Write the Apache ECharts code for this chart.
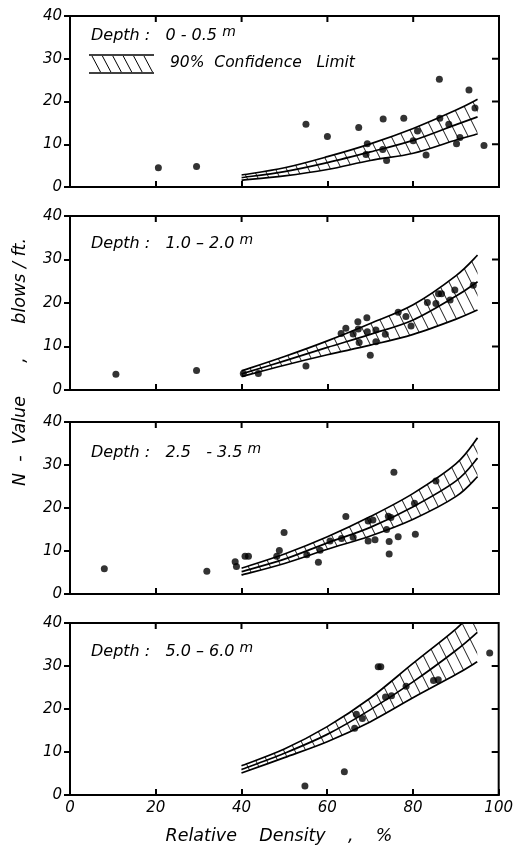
<!DOCTYPE html>
<html><head><meta charset="utf-8">
<script src="https://cdn.jsdelivr.net/npm/echarts@6/dist/echarts.min.js"></script>
<style>html,body{margin:0;padding:0;background:#fff}#c{width:516px;height:849px}</style>
</head><body><div id="c"></div>
<script>
// ---- data ----
const depthText = ['Depth :   0 - 0.5 ', 'Depth :   1.0 \u2013 2.0 ', 'Depth :   2.5   - 3.5 ', 'Depth :   5.0 \u2013 6.0 '];
const xTickValues = [0, 20, 40, 60, 80, 100];
const yTickValues = [0, 10, 20, 30, 40];
const curveX = [40, 50, 60, 70, 80, 90, 95];

// Depth 0 - 0.5 m
const upper1 = [2.8, 4.5, 7.1, 10.1, 13.7, 18.0, 20.5];
const mid1   = [2.2, 3.6, 5.7, 8.2, 10.9, 14.6, 16.4];
const lower1 = [1.6, 2.6, 4.1, 6.2, 7.9, 11.0, 12.4];
const pts1 = [[20.6,4.5],[29.5,4.8],[55,14.7],[60,11.8],[67.3,13.9],[73,15.9],[77.8,16.1],[86.1,25.2],[93,22.7],[94.4,18.5],[96.5,9.7],
  [69.3,10.1],[69,7.6],[72.9,8.8],[73.8,6.2],[81,13.1],[80,10.8],[83,7.5],[86.2,16.1],[88.3,14.7],[90.1,10.1],[90.9,11.6]];

// Depth 1.0 - 2.0 m
const upper2 = [4.4, 7.7, 11.3, 15.3, 19.6, 26.3, 31.0];
const mid2   = [3.7, 6.7, 9.8, 12.8, 16.1, 21.6, 24.9];
const lower2 = [3.1, 5.7, 8.1, 10.3, 12.8, 16.3, 18.4];
const pts2 = [[10.7,3.6],[29.5,4.5],[40.4,3.8],[43.9,3.8],[55,5.5],[63.2,13],[64.3,14.2],[66,12.9],[67.1,15.7],[67.2,14],[69.2,16.6],
  [69.3,13.4],[67.4,10.9],[71.3,13.8],[71.3,11.1],[70,8.0],[73.5,12.8],[76.5,17.9],[78.3,16.9],[79.5,14.7],[83.3,20.1],[85.3,19.9],
  [85.9,22.1],[86.6,22.1],[88.6,20.7],[89.7,23],[94,24.1]];

// Depth 2.5 - 3.5 m
const upper3 = [6.0, 9.3, 13.3, 18.0, 23.4, 30.3, 36.3];
const mid3   = [5.2, 8.1, 11.9, 15.5, 20.3, 26.3, 31.6];
const lower3 = [4.4, 7.1, 10.4, 13.5, 17.4, 22.7, 27.3];
const pts3 = [[8,5.9],[31.9,5.3],[38.5,7.5],[38.8,6.4],[40.8,8.8],[41.6,8.8],[48.8,10.1],[48.2,8.8],[49.9,14.3],[55.2,9.1],[57.9,7.4],
  [58.3,10.2],[60.6,12.3],[63.3,12.9],[64.3,18.0],[66,13.2],[69.5,17.0],[70.6,17.2],[69.5,12.3],[71.1,12.6],[73.8,15.0],[74.2,18.1],
  [74.8,17.8],[75.5,28.3],[74.4,12.2],[74.4,9.3],[76.5,13.3],[80.3,21.1],[80.5,13.9],[85.3,26.3]];

// Depth 5.0 - 6.0 m
const upper4 = [6.8, 10.7, 15.9, 22.5, 30.6, 38.6, 43.5];
const mid4   = [5.9, 9.7, 14.1, 19.8, 26.3, 33.6, 37.8];
const lower4 = [5.1, 8.7, 12.4, 17.0, 22.6, 28.0, 31.0];
const pts4 = [[54.8,2.1],[64,5.4],[66.4,15.5],[66.8,18.8],[68.2,17.8],[71.9,29.8],[72.5,29.8],[73.6,22.8],[75,23.1],[78.4,25.3],
  [84.8,26.6],[85.9,26.8],[97.9,33.0]];

const uppers = [upper1, upper2, upper3, upper4];
const mids = [mid1, mid2, mid3, mid4];
const lowers = [lower1, lower2, lower3, lower4];
const points = [pts1, pts2, pts3, pts4];

// ---- rendering ----
const FONT = 'DejaVu Sans';
const HATCH_STEP = 11;
const X_MIN = xTickValues[0], X_MAX = xTickValues[xTickValues.length - 1];
const Y_MIN = yTickValues[0], Y_MAX = yTickValues[yTickValues.length - 1];

function bez(p) {
  let s = '';
  for (let k = 0; k < p.length - 1; k++) {
    const p0 = p[k - 1] || p[k], p1 = p[k], p2 = p[k + 1], p3 = p[k + 2] || p[k + 1];
    const c1 = [p1[0] + (p2[0] - p0[0]) / 6, p1[1] + (p2[1] - p0[1]) / 6];
    const c2 = [p2[0] - (p3[0] - p1[0]) / 6, p2[1] - (p3[1] - p1[1]) / 6];
    s += ' C' + c1[0] + ',' + c1[1] + ' ' + c2[0] + ',' + c2[1] + ' ' + p2[0] + ',' + p2[1];
  }
  return s;
}
const M = p => 'M' + p[0] + ',' + p[1];

function bandRenderer(i) {
  return function (params, api) {
    const up = curveX.map((x, k) => api.coord([x, uppers[i][k]]));
    const md = curveX.map((x, k) => api.coord([x, mids[i][k]]));
    const lo = curveX.map((x, k) => api.coord([x, lowers[i][k]]));
    const cs = params.coordSys;
    const loRev = lo.slice().reverse();
    const bandPath = M(up[0]) + bez(up) + ' L' + loRev[0][0] + ',' + loRev[0][1] + bez(loRev) + ' Z';
    let hatch = '';
    const h = cs.height + 40, y0 = cs.y - 20;
    for (let x = cs.x - h; x < cs.x + cs.width - 20; x += HATCH_STEP) {
      hatch += 'M' + x + ',' + y0 + ' L' + (x + h * 0.5) + ',' + (y0 + h) + ' ';
    }
    // frame corners and inward ticks on the top and right edges
    const tl = api.coord([X_MIN, Y_MAX]), br = api.coord([X_MAX, Y_MIN]);
    let ticks = '';
    xTickValues.slice(1, -1).forEach(v => { const p = api.coord([v, Y_MAX]); ticks += 'M' + p[0] + ',' + p[1] + ' L' + p[0] + ',' + (p[1] + 6) + ' '; });
    yTickValues.slice(1, -1).forEach(v => { const p = api.coord([X_MAX, v]); ticks += 'M' + p[0] + ',' + p[1] + ' L' + (p[0] - 7) + ',' + p[1] + ' '; });
    const curveStyle = { fill: null, stroke: '#000', lineWidth: 1.7 };
    return {
      type: 'group',
      children: [
        { type: 'group',
          clipPath: { type: 'rect', shape: { x: cs.x, y: cs.y, width: cs.width, height: cs.height } },
          children: [
            { type: 'group', clipPath: { type: 'path', shape: { pathData: bandPath } },
              children: [{ type: 'path', shape: { pathData: hatch }, style: { fill: null, stroke: '#000', lineWidth: 0.9 } }] },
            { type: 'path', shape: { pathData: M(up[0]) + bez(up) }, style: curveStyle },
            { type: 'path', shape: { pathData: M(md[0]) + bez(md) }, style: curveStyle },
            { type: 'path', shape: { pathData: M(lo[0]) + bez(lo) }, style: curveStyle }
          ] },
        { type: 'rect', shape: { x: tl[0], y: tl[1], width: br[0] - tl[0], height: br[1] - tl[1] }, style: { fill: null, stroke: '#000', lineWidth: 2 } },
        { type: 'path', shape: { pathData: ticks }, style: { fill: null, stroke: '#000', lineWidth: 2 } }
      ]
    };
  };
}

const gridBoxes = [{ top: 16, height: 171 }, { top: 216, height: 174 }, { top: 422, height: 172 }, { top: 623, height: 172 }];
const grid = gridBoxes.map(b => ({ left: 70, width: 429, top: b.top, height: b.height, show: false }));

const xAxis = [], yAxis = [], series = [];
const tickStyle = { color: '#000', width: 2 };
const lineStyle = { color: '#000', width: 2 };
const labelStyle = { color: '#000', fontFamily: FONT, fontStyle: 'italic', fontSize: 15 };
for (let i = 0; i < 4; i++) {
  const isLast = i === 3;
  xAxis.push({ gridIndex: i, type: 'value', min: X_MIN, max: X_MAX, interval: 20, position: 'bottom',
    axisLine: { show: true, onZero: false, lineStyle },
    axisTick: { show: true, inside: true, length: 6, lineStyle: tickStyle },
    axisLabel: Object.assign({ show: isLast, margin: 6 }, labelStyle),
    splitLine: { show: false } });
  yAxis.push({ gridIndex: i, type: 'value', min: Y_MIN, max: Y_MAX, interval: 10, position: 'left',
    axisLine: { show: true, onZero: false, lineStyle },
    axisTick: { show: true, inside: false, length: 6, lineStyle: tickStyle },
    axisLabel: Object.assign({ margin: 8 }, labelStyle),
    splitLine: { show: false } });

  series.push({ type: 'custom', xAxisIndex: i, yAxisIndex: i, data: [[curveX[0], lowers[i][0]]],
    renderItem: bandRenderer(i), silent: true, animation: false, z: 2 });
  series.push({ type: 'scatter', xAxisIndex: i, yAxisIndex: i, data: points[i], symbol: 'circle', symbolSize: 7,
    itemStyle: { color: '#000' }, z: 4, animation: false, silent: true });
}

const textY = [35, 243, 452, 651];
const graphic = depthText.map((t, i) => ({
  type: 'text', left: 91, top: textY[i] - 10,
  style: { text: '{a|' + t + '}{m|m}', rich: {
    a: { fontFamily: FONT, fontStyle: 'italic', fontSize: 16, fill: '#000', verticalAlign: 'bottom', lineHeight: 20 },
    m: { fontFamily: FONT, fontStyle: 'italic', fontSize: 14, fill: '#000', verticalAlign: 'bottom', lineHeight: 20, padding: [0, 0, 5, 0] } } }
}));
// legend swatch of the confidence band
for (let k = 0; k < 6; k++) {
  const x = 92 + k * 10.4;
  graphic.push({ type: 'line', shape: { x1: x, y1: 56, x2: x + 8.5, y2: 72 }, style: { stroke: '#000', lineWidth: 1 } });
}
graphic.push(
  { type: 'line', shape: { x1: 89, y1: 55, x2: 154, y2: 55 }, style: { stroke: '#000', lineWidth: 1.7 } },
  { type: 'line', shape: { x1: 89, y1: 73, x2: 154, y2: 73 }, style: { stroke: '#000', lineWidth: 1.7 } },
  { type: 'text', left: 170, top: 55, style: { text: '90%  Confidence   Limit', fontFamily: FONT, fontStyle: 'italic', fontSize: 15.5, fill: '#000' } },
  { type: 'text', x: 20, y: 362, rotation: Math.PI / 2,
    style: { text: 'N  -  Value      ,      blows / ft.', fontFamily: FONT, fontStyle: 'italic', fontSize: 17.5, fill: '#000', align: 'center', verticalAlign: 'middle' } },
  { type: 'text', x: 279, y: 836,
    style: { text: 'Relative    Density    ,    %', fontFamily: FONT, fontStyle: 'italic', fontSize: 17.5, fill: '#000', align: 'center', verticalAlign: 'middle' } }
);

const chart = echarts.init(document.getElementById('c'), null, { renderer: 'canvas' });
chart.setOption({ animation: false, backgroundColor: '#fff', grid, xAxis, yAxis, series, graphic });
</script>
</body></html>
